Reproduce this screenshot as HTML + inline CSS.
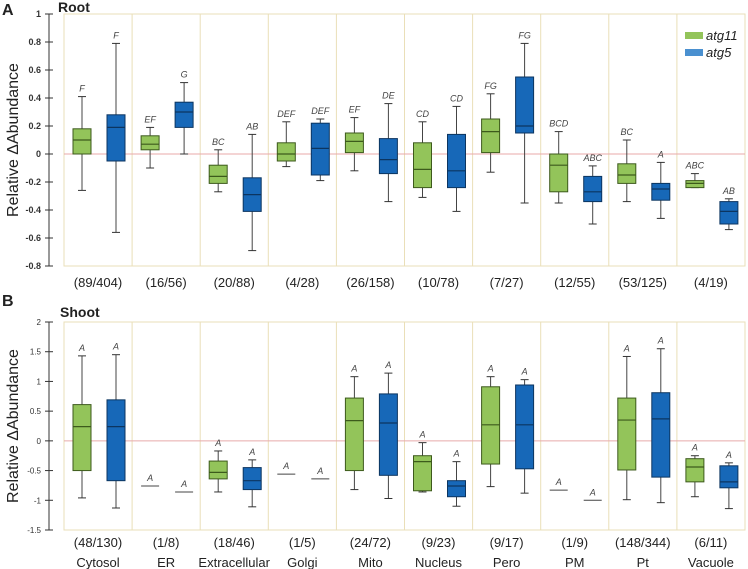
<!DOCTYPE html>
<html><head><meta charset="utf-8"><style>
body{margin:0;background:#fff;}
svg{display:block;font-family:"Liberation Sans",Arial,sans-serif;}
</style></head><body>
<svg id="chart" width="748" height="569" viewBox="0 0 748 569" xmlns="http://www.w3.org/2000/svg"></svg>
<script>
const categories=["Cytosol","ER","Extracellular","Golgi","Mito","Nucleus","Pero","PM","Pt","Vacuole"];
const rootCounts=["(89/404)","(16/56)","(20/88)","(4/28)","(26/158)","(10/78)","(7/27)","(12/55)","(53/125)","(4/19)"];
const shootCounts=["(48/130)","(1/8)","(18/46)","(1/5)","(24/72)","(9/23)","(9/17)","(1/9)","(148/344)","(6/11)"];
// [whiskerLow, q1, median, q3, whiskerHigh]
const rootAtg11=[[-0.26,0.0,0.1,0.18,0.41],[-0.1,0.03,0.07,0.13,0.19],[-0.27,-0.21,-0.16,-0.08,0.03],[-0.09,-0.05,0.0,0.08,0.23],[-0.12,0.01,0.09,0.15,0.26],[-0.31,-0.24,-0.11,0.08,0.23],[-0.13,0.01,0.16,0.25,0.43],[-0.35,-0.27,-0.08,0.0,0.16],[-0.34,-0.21,-0.15,-0.07,0.1],[-0.24,-0.24,-0.21,-0.19,-0.14]];
const rootAtg5=[[-0.56,-0.05,0.19,0.28,0.79],[0.0,0.19,0.3,0.37,0.51],[-0.69,-0.41,-0.29,-0.17,0.14],[-0.19,-0.15,0.04,0.22,0.25],[-0.34,-0.14,-0.04,0.11,0.36],[-0.41,-0.24,-0.12,0.14,0.34],[-0.35,0.15,0.2,0.55,0.79],[-0.5,-0.34,-0.27,-0.16,-0.085],[-0.46,-0.33,-0.25,-0.21,-0.06],[-0.54,-0.5,-0.41,-0.34,-0.32]];
const rootLetters11=["F","EF","BC","DEF","EF","CD","FG","BCD","BC","ABC"];
const rootLetters5=["F","G","AB","DEF","DE","CD","FG","ABC","A","AB"];
const shootAtg11=[[-0.96,-0.5,0.24,0.61,1.43],[-0.76,-0.76,-0.76,-0.76,-0.76],[-0.86,-0.64,-0.53,-0.34,-0.17],[-0.56,-0.56,-0.56,-0.56,-0.56],[-0.82,-0.5,0.34,0.72,1.08],[-0.86,-0.84,-0.35,-0.25,-0.03],[-0.77,-0.39,0.27,0.91,1.08],[-0.83,-0.83,-0.83,-0.83,-0.83],[-0.99,-0.49,0.35,0.72,1.42],[-0.94,-0.69,-0.44,-0.3,-0.25]];
const shootAtg5=[[-1.13,-0.67,0.24,0.69,1.45],[-0.86,-0.86,-0.86,-0.86,-0.86],[-1.11,-0.82,-0.67,-0.45,-0.32],[-0.64,-0.64,-0.64,-0.64,-0.64],[-0.97,-0.58,0.3,0.79,1.14],[-1.1,-0.94,-0.76,-0.67,-0.35],[-0.88,-0.47,0.27,0.94,1.03],[-1.0,-1.0,-1.0,-1.0,-1.0],[-1.04,-0.61,0.37,0.81,1.55],[-1.14,-0.79,-0.69,-0.42,-0.37]];
const shootLetters11=["A","A","A","A","A","A","A","A","A","A"];
const shootLetters5=["A","A","A","A","A","A","A","A","A","A"];
const rootTicks=[1,0.8,0.6,0.4,0.2,0,-0.2,-0.4,-0.6,-0.8];
const shootTicks=[2,1.5,1,0.5,0,-0.5,-1,-1.5];

const NS="http://www.w3.org/2000/svg";
const svg=document.getElementById('chart');
function mk(tag,attrs,parent,text){const e=document.createElementNS(NS,tag);for(const k in attrs)e.setAttribute(k,attrs[k]);if(text!==undefined)e.textContent=text;(parent||svg).appendChild(e);return e;}

const X0=64,CW=68.1;
const xCat=i=>X0+i*CW;

function panel(cfg){
  const g=mk('g',{});
  
  
  const y=v=>cfg.y0-(v-cfg.vmin)/(cfg.vmax-cfg.vmin)*(cfg.y0-cfg.y1);
  const x1=xCat(categories.length);
  // frame
  const fr=mk('rect',{x:X0,y:cfg.y1,width:x1-X0,height:cfg.y0-cfg.y1,fill:'none',stroke:'#eadfb8','stroke-width':1},g);
  
  
  for(let i=1;i<categories.length;i++){
    const l=mk('line',{x1:xCat(i),x2:xCat(i),y1:cfg.y1,y2:cfg.y0,stroke:'#eadfb8','stroke-width':1},g);
    
    
  }
  const z=mk('line',{x1:X0,x2:x1,y1:y(0),y2:y(0),stroke:'#e8aaaa','stroke-width':1},g);
  
  
  // axis
  const ax=mk('line',{x1:49,x2:49,y1:cfg.y1,y2:cfg.y0,stroke:'#333','stroke-width':1},g);
  
  
  cfg.ticks.forEach(t=>{
    mk('line',{x1:45,x2:53,y1:y(t),y2:y(t),stroke:'#333'},g);
    const tl=mk('text',{x:41,y:y(t)+3,'text-anchor':'end','font-size':cfg.tickSize,'font-weight':cfg.tickBold?'bold':'normal',fill:'#333'},g,String(t));
    
    
  });
  const yt=mk('text',{x:0,y:0,transform:`translate(18,${(cfg.y0+cfg.y1)/2}) rotate(-90)`,'text-anchor':'middle','font-size':16,fill:'#222'},g,'Relative \u0394Abundance');
  
  
  function box(i,d,off,fill,stroke,letter,series){
    const cx=xCat(i)+off,w=18;
    const bg=mk('g',{},g);
    
    
    const [lo,q1,md,q3,hi]=d;
    if(hi-lo<0.001){
      mk('line',{x1:cx-w/2,x2:cx+w/2,y1:y(md),y2:y(md),stroke:'#444','stroke-width':1},bg);
    }else{
      mk('line',{x1:cx,x2:cx,y1:y(hi),y2:y(lo),stroke:'#444','stroke-width':1},bg);
      mk('line',{x1:cx-4,x2:cx+4,y1:y(hi),y2:y(hi),stroke:'#333','stroke-width':1},bg);
      mk('line',{x1:cx-4,x2:cx+4,y1:y(lo),y2:y(lo),stroke:'#333','stroke-width':1},bg);
      mk('rect',{x:cx-w/2,y:y(q3),width:w,height:Math.max(1,y(q1)-y(q3)),fill:fill,stroke:stroke,'stroke-width':1},bg);
      mk('line',{x1:cx-w/2,x2:cx+w/2,y1:y(md),y2:y(md),stroke:stroke,'stroke-width':1.2},bg);
    }
    const lt=mk('text',{x:cx,y:y(hi)-5,'text-anchor':'middle','font-size':9,'font-style':'italic',fill:'#444'},bg,letter);
    
    
  }
  categories.forEach((c,i)=>{
    box(i,cfg.a11[i],18,'#93c45a','#3d5a1c',cfg.l11[i],'atg11');
    box(i,cfg.a5[i],52,'#1768b8','#0c3560',cfg.l5[i],'atg5');
    const ct=mk('text',{x:xCat(i)+34,y:cfg.countY,'text-anchor':'middle','font-size':13,fill:'#222'},g,cfg.counts[i]);
    
    
    if(cfg.names){
      const nt=mk('text',{x:xCat(i)+34,y:cfg.countY+20,'text-anchor':'middle','font-size':13,fill:'#222'},g,c);
      
      
    }
  });
}
panel({name:'root-panel',y0:266,y1:14,vmin:-0.8,vmax:1,ticks:rootTicks,tickSize:9,tickBold:true,a11:rootAtg11,a5:rootAtg5,l11:rootLetters11,l5:rootLetters5,counts:rootCounts,countY:287,names:false});
panel({name:'shoot-panel',y0:530,y1:322,vmin:-1.5,vmax:2,ticks:shootTicks,tickSize:8,tickBold:false,a11:shootAtg11,a5:shootAtg5,l11:shootLetters11,l5:shootLetters5,counts:shootCounts,countY:547,names:true});

let t=mk('text',{x:2,y:15,'font-size':16,'font-weight':'bold',fill:'#222'},svg,'A');

t=mk('text',{x:58,y:12,'font-size':14,'font-weight':'bold',fill:'#222'},svg,'Root');

t=mk('text',{x:2,y:306,'font-size':16,'font-weight':'bold',fill:'#222'},svg,'B');

t=mk('text',{x:60,y:317,'font-size':14,'font-weight':'bold',fill:'#222'},svg,'Shoot');


const lg=mk('g',{});


let e=mk('rect',{x:685,y:32,width:18,height:7,fill:'#93c45a'},lg);

e=mk('text',{x:706,y:40,'font-size':13,'font-style':'italic',fill:'#222'},lg,'atg11');

e=mk('rect',{x:685,y:49,width:18,height:7,fill:'#4a90d0'},lg);

e=mk('text',{x:706,y:57,'font-size':13,'font-style':'italic',fill:'#222'},lg,'atg5');

</script>
</body></html>
